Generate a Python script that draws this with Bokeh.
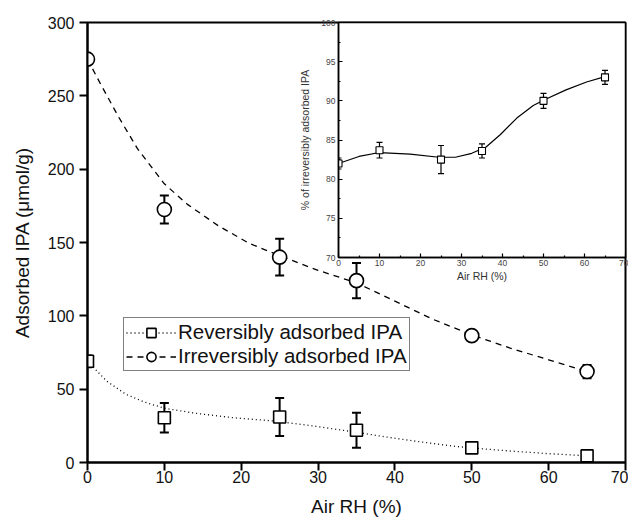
import numpy as np
from bokeh.plotting import figure
from bokeh.models import (ColumnDataSource, Whisker, TeeHead, Legend, LegendItem,
                          Range1d, FixedTicker)
from bokeh.layouts import column
from bokeh.embed import file_html
from bokeh.resources import INLINE

# ---------------- data ----------------
air_rh = [0, 10, 25, 35, 50, 65]
reversible = [69, 30.5, 31, 22, 10, 4.5]
reversible_err = [4, 10, 13, 12, 3, 3]
irreversible = [275, 172.5, 140, 124, 86.5, 62]
irreversible_err = [3, 9.5, 12.5, 12, 3, 4.5]

# fitted curves
rev_fit_x = [0, 2.5, 5, 7.5, 10, 14, 19, 24, 29, 34, 39, 43, 48, 54, 60, 65]
rev_fit_y = [69, 55.5, 46.5, 41, 37, 33.6, 30.5, 28.4, 25.2, 21.4, 17.3, 14.3, 10.9, 8.2, 6.0, 4.6]
irr_fit_x = [0, 1.5, 4, 6.5, 10, 13, 17, 21, 25, 30, 35, 40, 45, 50, 55, 60, 65]
irr_fit_y = [275, 260, 236, 214, 190, 176, 161.5, 149.5, 141, 131, 122.5, 110, 97.5, 87, 78, 70, 62]

# inset
pct_irrev = [82.0, 83.7, 82.5, 83.6, 90.0, 93.0]
pct_irrev_err = [0.7, 1.0, 1.8, 0.9, 0.95, 0.9]
inset_fit_x = [0, 5, 10, 17.5, 24.5, 28.5, 32.5, 36, 39.5, 43.5, 47.5, 50.5, 55.5, 60.5, 65]
inset_fit_y = [82.0, 82.9, 83.4, 83.2, 82.8, 82.8, 83.3, 84.1, 85.7, 87.8, 89.4, 90.2, 91.4, 92.4, 93.1]

main_x_ticks = [0, 10, 20, 30, 40, 50, 60, 70]
main_y_ticks = [0, 50, 100, 150, 200, 250, 300]
inset_x_ticks = [0, 10, 20, 30, 40, 50, 60, 70]
inset_y_ticks = [70, 75, 80, 85, 90, 95, 100]

FONT = "Liberation Sans"

# ---------------- main figure ----------------
p = figure(width=628, height=520, x_range=Range1d(0, 70), y_range=Range1d(0, 300),
           output_backend="svg", toolbar_location=None,
           min_border_left=87, min_border_right=3, min_border_top=22, min_border_bottom=58)
p.grid.visible = False
p.outline_line_color = "black"
p.outline_line_width = 2
p.background_fill_color = "white"

for ax in (p.xaxis[0], p.yaxis[0]):
    ax.axis_line_width = 2
    ax.major_tick_line_width = 2
    ax.major_tick_in = 0
    ax.major_tick_out = 8
    ax.minor_tick_line_color = None
    ax.major_label_text_font = FONT
    ax.major_label_text_font_size = "16px"
    ax.major_label_text_color = "#111111"
    ax.axis_label_text_font = FONT
    ax.axis_label_text_font_size = "19px"
    ax.axis_label_text_font_style = "normal"
    ax.axis_label_text_color = "#111111"

p.xaxis.ticker = FixedTicker(ticks=main_x_ticks)
p.yaxis.ticker = FixedTicker(ticks=main_y_ticks)
p.xaxis.axis_label = "Air RH (%)"
p.yaxis.axis_label = "Adsorbed IPA (\u03bcmol/g)"
p.xaxis.major_label_standoff = 0
p.xaxis.axis_label_standoff = 10
p.yaxis.major_label_standoff = 5
p.yaxis.axis_label_standoff = 12

src_rev = ColumnDataSource(dict(x=air_rh, y=reversible,
                                lo=[v - e for v, e in zip(reversible, reversible_err)],
                                hi=[v + e for v, e in zip(reversible, reversible_err)]))
src_irr = ColumnDataSource(dict(x=air_rh, y=irreversible,
                                lo=[v - e for v, e in zip(irreversible, irreversible_err)],
                                hi=[v + e for v, e in zip(irreversible, irreversible_err)]))

rev_line = p.line(rev_fit_x, rev_fit_y, line_color="black", line_width=1.3, line_dash="1 3")
irr_line = p.line(irr_fit_x, irr_fit_y, line_color="black", line_width=1.3, line_dash="6 5")

for src in (src_rev, src_irr):
    w = Whisker(base="x", upper="hi", lower="lo", source=src, line_color="black", line_width=2,
                upper_head=TeeHead(size=9, line_width=2, line_color="black"),
                lower_head=TeeHead(size=9, line_width=2, line_color="black"),
                level="underlay")
    p.add_layout(w)

rev_pts = p.scatter("x", "y", source=src_rev, marker="square", size=12,
                    fill_color="white", line_color="black", line_width=1.6)
irr_pts = p.scatter("x", "y", source=src_irr, marker="circle", size=14,
                    fill_color="white", line_color="black", line_width=1.6)

legend = Legend(items=[LegendItem(label="Reversibly adsorbed IPA", renderers=[rev_line, rev_pts]),
                       LegendItem(label="Irreversibly adsorbed IPA", renderers=[irr_line, irr_pts])],
                location=(36, 91), orientation="vertical")
legend.border_line_color = "black"
legend.border_line_width = 1
legend.background_fill_color = "white"
legend.background_fill_alpha = 1
legend.label_text_font = FONT
legend.label_text_font_size = "20.5px"
legend.label_text_color = "#111111"
legend.glyph_width = 50
legend.glyph_height = 23
legend.label_height = 23
legend.label_standoff = 2
legend.padding = 2
legend.spacing = 0
legend.margin = 0
p.add_layout(legend, "center")

# ---------------- inset ----------------
# (frames of plots in one column are aligned, so the inset keeps the same left/right borders)
ins = figure(frame_width=287, frame_height=235, x_range=Range1d(0, 70), y_range=Range1d(70, 100),
             output_backend="svg", toolbar_location=None,
             min_border_left=87, min_border_right=3, min_border_top=10, min_border_bottom=30)
ins.grid.visible = False
ins.border_fill_color = None
ins.background_fill_color = "white"
ins.outline_line_color = "black"
ins.outline_line_width = 1.5

for ax in (ins.xaxis[0], ins.yaxis[0]):
    ax.axis_line_width = 1.5
    ax.major_tick_line_width = 1.2
    ax.minor_tick_line_width = 1.2
    ax.major_tick_in = 4
    ax.major_tick_out = 0
    ax.minor_tick_in = 2
    ax.minor_tick_out = 0
    ax.major_label_text_font = FONT
    ax.major_label_text_font_size = "8.5px"
    ax.major_label_text_color = "#444444"
    ax.axis_label_text_font = FONT
    ax.axis_label_text_font_size = "10.5px"
    ax.axis_label_text_font_style = "normal"
    ax.axis_label_text_color = "#333333"

ins.xaxis.ticker = FixedTicker(ticks=inset_x_ticks, minor_ticks=list(range(5, 70, 10)))
ins.yaxis.ticker = FixedTicker(ticks=inset_y_ticks, minor_ticks=[72.5, 77.5, 82.5, 87.5, 92.5, 97.5])
ins.xaxis.axis_label = "Air RH (%)"
ins.yaxis.axis_label = "% of irreversibly adsorbed IPA"
ins.xaxis.major_label_standoff = 2
ins.xaxis.axis_label_standoff = 1
ins.yaxis.major_label_standoff = 3
ins.yaxis.axis_label_standoff = 7

src_pct = ColumnDataSource(dict(x=air_rh, y=pct_irrev,
                                lo=[v - e for v, e in zip(pct_irrev, pct_irrev_err)],
                                hi=[v + e for v, e in zip(pct_irrev, pct_irrev_err)]))
ins.line(inset_fit_x, inset_fit_y, line_color="black", line_width=1.2)
wi = Whisker(base="x", upper="hi", lower="lo", source=src_pct, line_color="black", line_width=1.2,
             upper_head=TeeHead(size=6, line_width=1.2, line_color="black"),
             lower_head=TeeHead(size=6, line_width=1.2, line_color="black"),
             level="underlay")
ins.add_layout(wi)
ins.scatter("x", "y", source=src_pct, marker="square", size=7,
            fill_color="white", line_color="black", line_width=1.1)

ins.styles = {"position": "absolute", "left": "251px", "top": "12px"}

layout = column(p, ins)
open("out.html", "w").write(file_html(layout, INLINE))
